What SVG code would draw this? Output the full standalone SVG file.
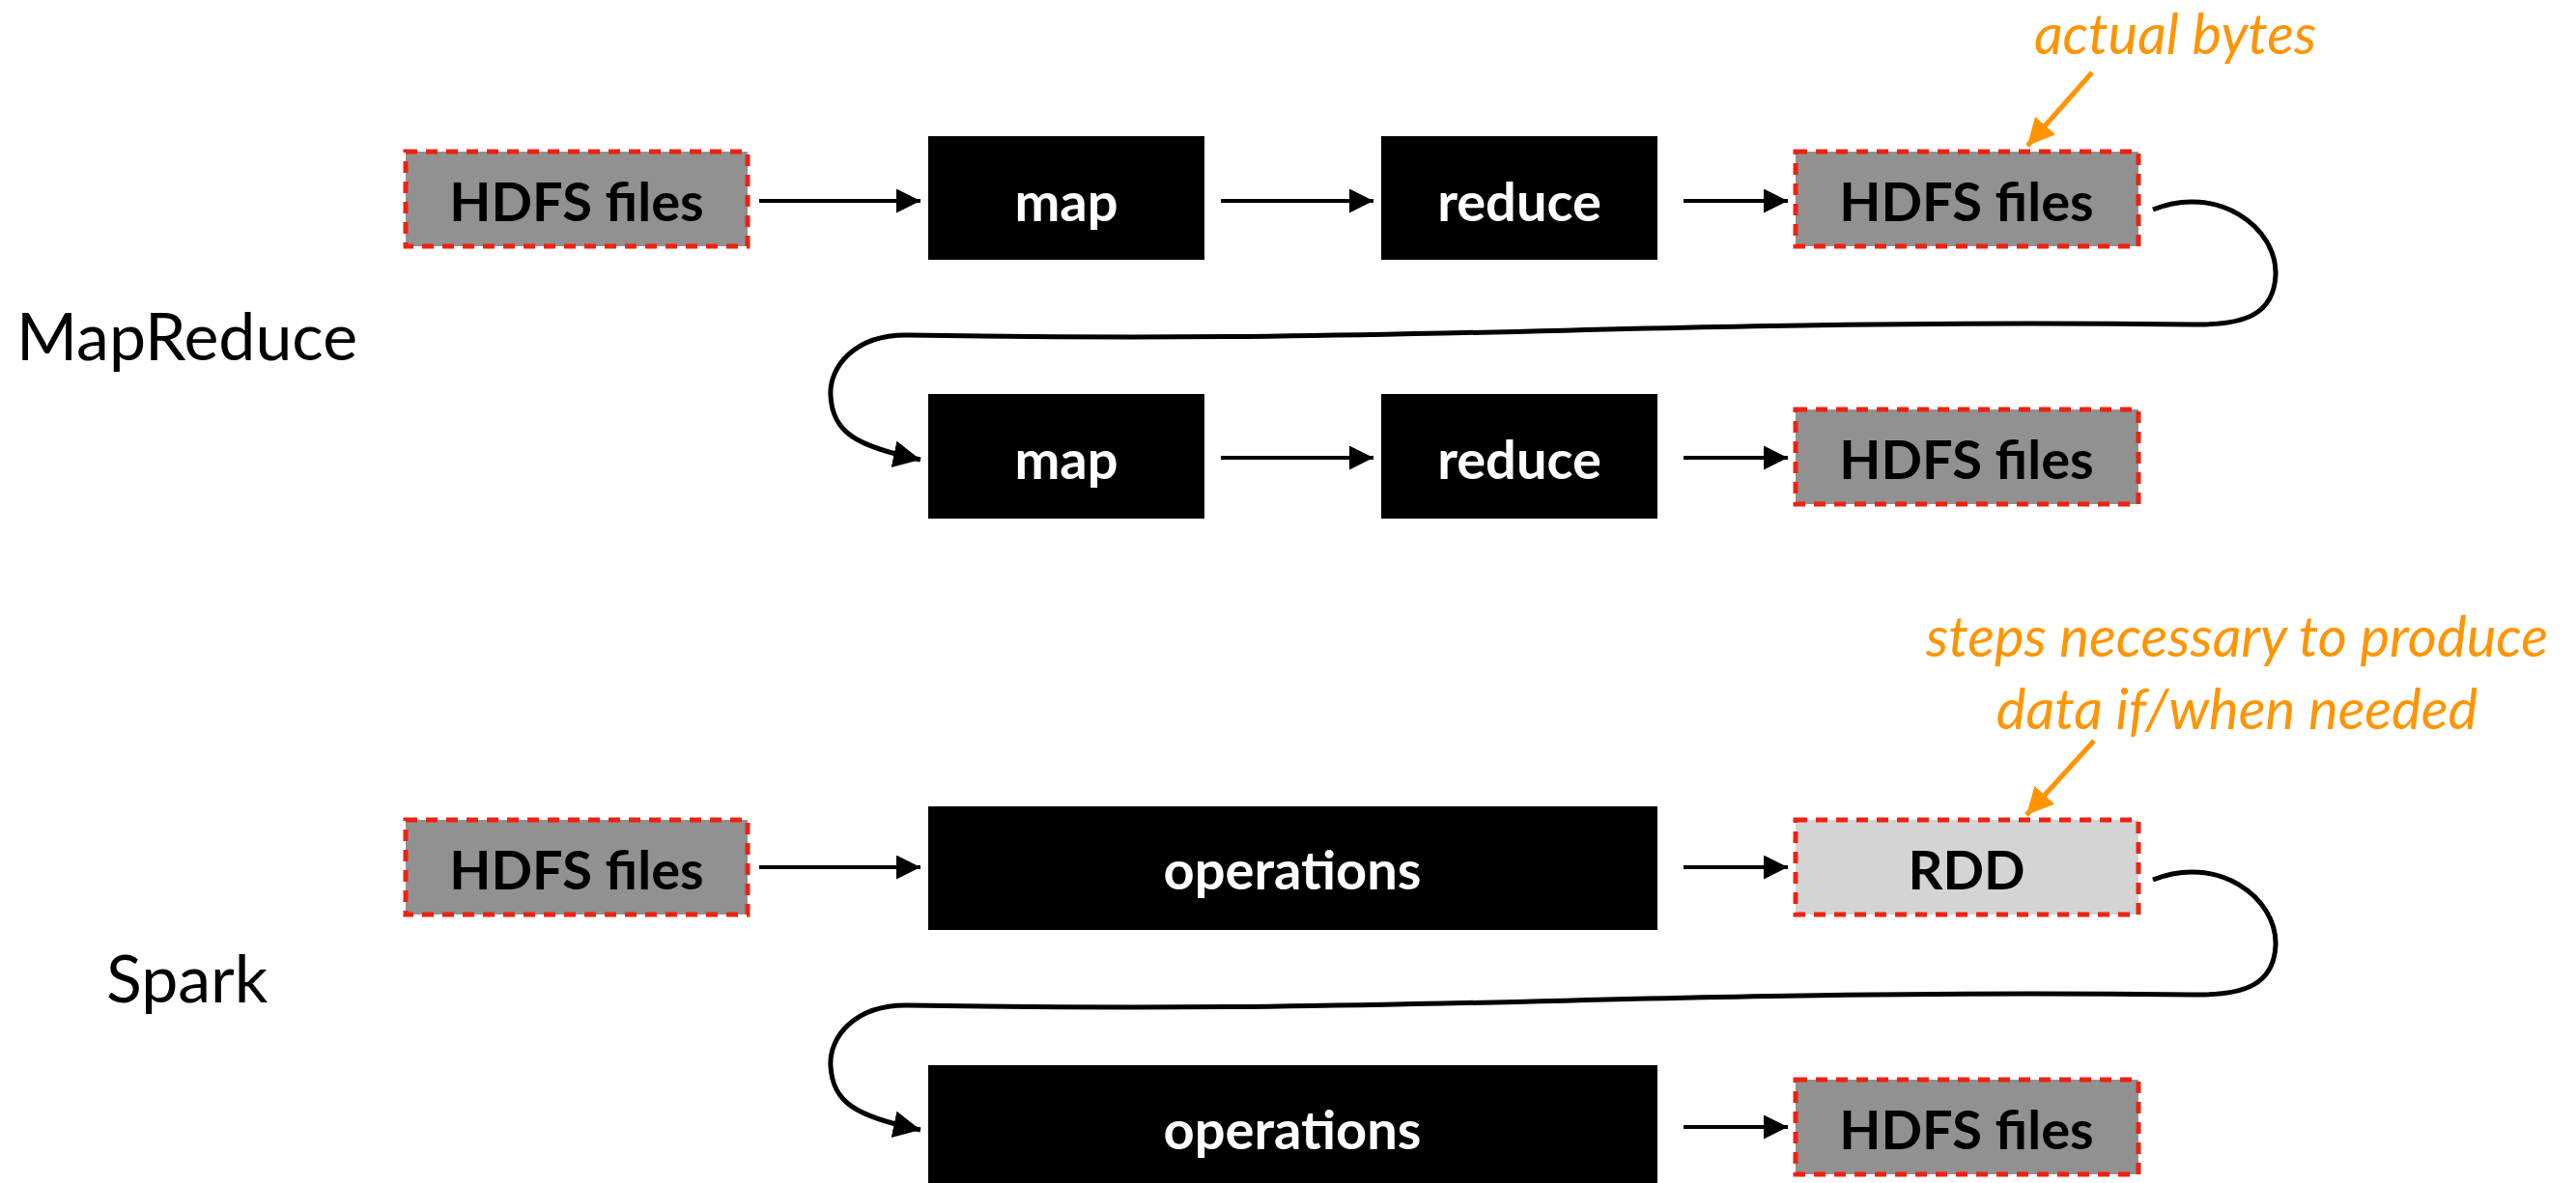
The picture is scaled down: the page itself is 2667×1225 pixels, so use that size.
<svg xmlns="http://www.w3.org/2000/svg" width="2667" height="1225" viewBox="0 0 2667 1225">
<defs>
<marker id="ah" markerUnits="userSpaceOnUse" markerWidth="26" markerHeight="26" refX="25" refY="12.5" orient="auto" viewBox="0 0 26 26"><path d="M0,0 L25,12.5 L0,25 z" fill="#000"/></marker>
<marker id="ah2" markerUnits="userSpaceOnUse" markerWidth="30" markerHeight="30" refX="28" refY="14" orient="auto" viewBox="0 0 30 30"><path d="M0,0 L28,14 L0,28 z" fill="#000"/></marker>
<marker id="oh" markerUnits="userSpaceOnUse" markerWidth="30" markerHeight="30" refX="28" refY="14" orient="auto" viewBox="0 0 30 30"><path d="M0,0 L28,14 L0,28 z" fill="#ff9400"/></marker>
</defs>
<style>
.file{fill:#919191;stroke:#ee2211;stroke-width:5;stroke-dasharray:12 9}
.rdd{fill:#d4d4d4;stroke:#ee2211;stroke-width:5;stroke-dasharray:12 9}
.op{fill:#000}
.lbl{font-family:Lato,"Open Sans",sans-serif;font-weight:700;font-size:56px;text-anchor:middle}
.dark{fill:#000}
.light{fill:#fff}
.title{font-family:Lato,"Open Sans",sans-serif;font-size:68px;fill:#000}
.note{font-family:Lato,"Open Sans",sans-serif;font-style:italic;font-size:58px;fill:#ff9400;text-anchor:middle}
.conn{fill:none;stroke:#000;stroke-width:4;marker-end:url(#ah)}
.loop{fill:none;stroke:#000;stroke-width:5;marker-end:url(#ah2)}
.ann{fill:none;stroke:#ff9400;stroke-width:5;marker-end:url(#oh)}
</style>
<rect width="2667" height="1225" fill="#fff"/>
<text class="title" x="17" y="373">MapReduce</text>
<text class="title" x="110" y="1038">Spark</text>
<g id="mr-hdfs-in"><rect class="file" x="420" y="157" width="354" height="98"/><text class="lbl dark" x="597" y="229">HDFS files</text></g>
<g id="mr-map1"><rect class="op" x="961" y="141" width="286" height="128"/><text class="lbl light" x="1104" y="229">map</text></g>
<g id="mr-reduce1"><rect class="op" x="1430" y="141" width="286" height="128"/><text class="lbl light" x="1573" y="229">reduce</text></g>
<g id="mr-hdfs-mid"><rect class="file" x="1859" y="157" width="355" height="98"/><text class="lbl dark" x="2036" y="229">HDFS files</text></g>
<g id="mr-map2"><rect class="op" x="961" y="408" width="286" height="129"/><text class="lbl light" x="1104" y="496">map</text></g>
<g id="mr-reduce2"><rect class="op" x="1430" y="408" width="286" height="129"/><text class="lbl light" x="1573" y="496">reduce</text></g>
<g id="mr-hdfs-out"><rect class="file" x="1859" y="424" width="355" height="98"/><text class="lbl dark" x="2036" y="496">HDFS files</text></g>
<g id="note-bytes"><text class="note" x="2252" y="56">actual bytes</text></g>
<g id="sp-hdfs-in"><rect class="file" x="420" y="849" width="354" height="98"/><text class="lbl dark" x="597" y="921">HDFS files</text></g>
<g id="sp-ops1"><rect class="op" x="961" y="835" width="755" height="128"/><text class="lbl light" x="1338" y="921">operations</text></g>
<g id="sp-rdd"><rect class="rdd" x="1859" y="849" width="355" height="98"/><text class="lbl dark" x="2036" y="921">RDD</text></g>
<g id="sp-ops2"><rect class="op" x="961" y="1103" width="755" height="130"/><text class="lbl light" x="1338" y="1190">operations</text></g>
<g id="sp-hdfs-out"><rect class="file" x="1859" y="1118" width="355" height="98"/><text class="lbl dark" x="2036" y="1190">HDFS files</text></g>
<g id="note-rdd"><text class="note" x="2316" y="680">steps necessary to produce</text><text class="note" x="2316" y="755">data if/when needed</text></g>
<g id="connectors">
<path class="conn" d="M786,208 L953,208"/>
<path class="conn" d="M1264,208 L1422,208"/>
<path class="conn" d="M1743,208 L1851,208"/>
<path class="conn" d="M1264,474 L1422,474"/>
<path class="conn" d="M1743,474 L1851,474"/>
<path class="conn" d="M786,898 L953,898"/>
<path class="conn" d="M1743,898 L1851,898"/>
<path class="conn" d="M1743,1167 L1851,1167"/>
<path class="loop" d="M2229,217 C2295,190 2358,235 2356,285 C2354,325 2325,337 2270,336 C1700,330 1500,356 940,347 C885,346 858,380 860,410 C862,447 885,462 953,476"/>
<path class="loop" d="M2229,911 C2295,884 2358,929 2356,979 C2354,1019 2325,1031 2270,1030 C1700,1024 1500,1050 940,1041 C885,1040 858,1074 860,1104 C862,1141 885,1156 953,1170"/>
<path class="ann" d="M2166,75 L2099,151"/>
<path class="ann" d="M2168,767 L2098,844"/>
</g>
</svg>
